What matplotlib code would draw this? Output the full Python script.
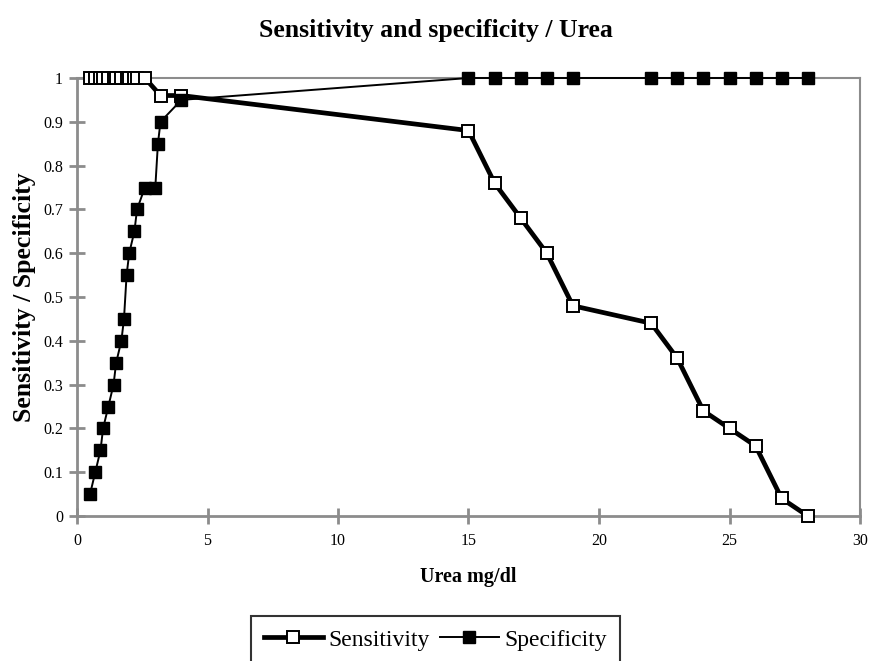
import matplotlib
matplotlib.use("Agg")
import matplotlib.pyplot as plt

# data
sens_x = [0.5, 0.7, 0.9, 1.0, 1.2, 1.4, 1.5, 1.7, 1.9, 2.0, 2.2, 2.3, 2.6,
          3.2, 4.0, 15, 16, 17, 18, 19, 22, 23, 24, 25, 26, 27, 28]
sens_y = [1, 1, 1, 1, 1, 1, 1, 1, 1, 1, 1, 1, 1,
          0.96, 0.96, 0.88, 0.76, 0.68, 0.60, 0.48, 0.44, 0.36, 0.24, 0.20, 0.16, 0.04, 0.0]

spec_x = [0.5, 0.7, 0.9, 1.0, 1.2, 1.4, 1.5, 1.7, 1.8, 1.9, 2.0, 2.2, 2.3, 2.6, 3.0, 3.1, 3.2, 4.0,
          15, 16, 17, 18, 19, 22, 23, 24, 25, 26, 27, 28]
spec_y = [0.05, 0.10, 0.15, 0.20, 0.25, 0.30, 0.35, 0.40, 0.45, 0.55, 0.60, 0.65, 0.70, 0.75, 0.75, 0.85, 0.90, 0.95,
          1, 1, 1, 1, 1, 1, 1, 1, 1, 1, 1, 1]

xticks = [0, 5, 10, 15, 20, 25, 30]
yticks = [0, 0.1, 0.2, 0.3, 0.4, 0.5, 0.6, 0.7, 0.8, 0.9, 1]
ytick_labels = ['0', '0.1', '0.2', '0.3', '0.4', '0.5', '0.6', '0.7', '0.8', '0.9', '1']

plt.rcParams['font.family'] = ['Liberation Serif', 'DejaVu Serif']

fig = plt.figure(figsize=(8.71, 6.61), dpi=100)
ax = fig.add_axes([77/871, 1-516/661, (860-77)/871, (516-78)/661])

ax.plot(sens_x, sens_y, color='black', lw=3.4, marker='s', ms=8,
        mfc='white', mec='black', mew=1.4, label='Sensitivity', zorder=3, clip_on=False)
ax.plot(spec_x, spec_y, color='black', lw=1.4, marker='s', ms=8,
        mfc='black', mec='black', label='Specificity', zorder=4, clip_on=False)

ax.set_xlim(0, 30)
ax.set_ylim(0, 1)
ax.set_xticks(xticks)
ax.set_yticks(yticks)
ax.set_yticklabels(ytick_labels)
for s in ax.spines.values():
    s.set_color('#8c8c8c')
    s.set_linewidth(2)
ax.tick_params(direction='inout', length=12, width=2, color='#8c8c8c',
               labelsize=11.5)
ax.tick_params(axis='x', pad=6)
ax.tick_params(axis='y', pad=4)
for sp in ['top', 'right']:
    ax.spines[sp].set_linewidth(1.5)

ax.set_xlabel('Urea mg/dl', fontsize=14.5, fontweight='bold', labelpad=13)
ax.set_ylabel('Sensitivity / Specificity', fontsize=18.5, fontweight='bold', labelpad=5)
fig.text(0.5, 1-31/661, 'Sensitivity and specificity / Urea', ha='center', va='center',
         fontsize=18.5, fontweight='bold')

leg = fig.legend(loc='upper center', bbox_to_anchor=(0.5, 1-616/661), ncol=2,
                 fontsize=17, frameon=True, fancybox=False, edgecolor='black',
                 handlelength=2.5, handletextpad=0.25, columnspacing=0.4,
                 borderpad=0.55, borderaxespad=0)
leg.get_frame().set_linewidth(1.5)

fig.savefig('out.png', dpi=100)
